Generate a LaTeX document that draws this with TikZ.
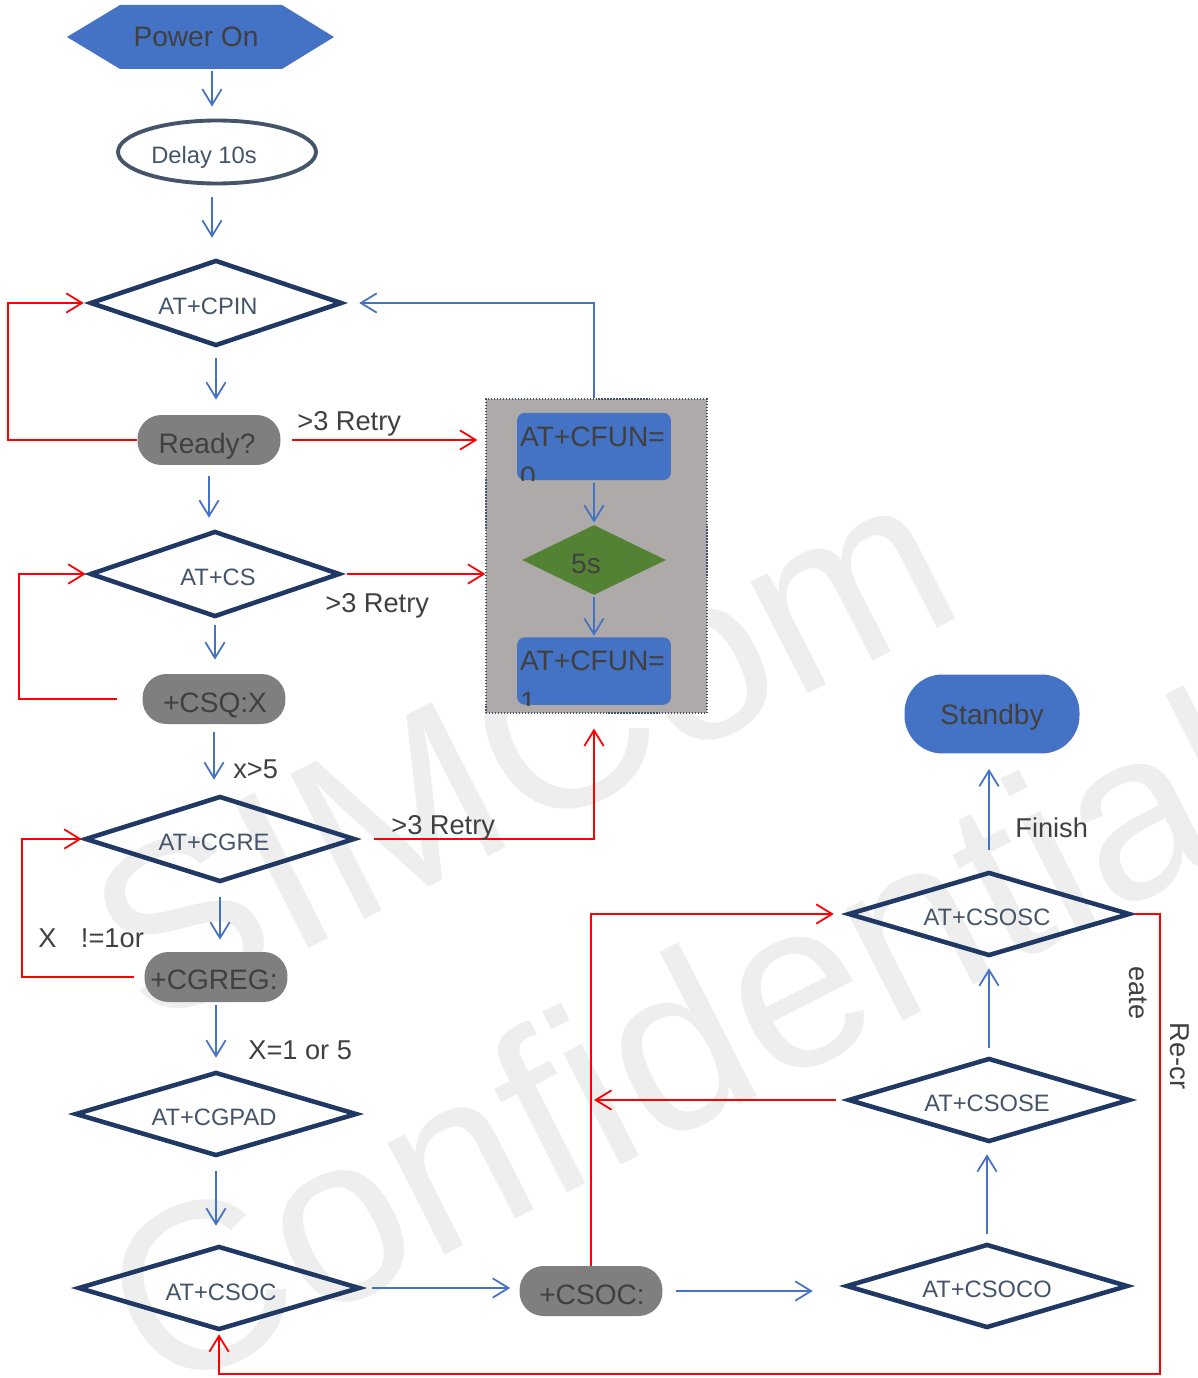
\documentclass[tikz,border=0pt]{standalone}
\usepackage{fontspec}
\setmainfont{Liberation Sans}
\usetikzlibrary{shapes.geometric,arrows.meta}
\definecolor{hexblue}{HTML}{4472C4}
\definecolor{navy}{HTML}{203864}
\definecolor{slate}{HTML}{44546A}
\definecolor{pillgray}{HTML}{7F7F7F}
\definecolor{boxgray}{HTML}{AEAAAA}
\definecolor{greenfill}{HTML}{548235}
\definecolor{txt}{HTML}{404040}
\definecolor{wmark}{HTML}{EEEEEE}
\definecolor{redline}{HTML}{FF0000}
\begin{document}
\begin{tikzpicture}[x=0.02cm,y=-0.02cm,
  dia/.style={diamond, draw=navy, line width=2.6pt, aspect=3.3, inner sep=0pt,
    text=slate, font=\fontsize{13.5}{15}\selectfont, minimum width=5.64cm, minimum height=1.68cm},
  pill/.style={rectangle, rounded corners=0.48cm, fill=pillgray, text=txt, inner sep=0pt,
    text depth=0pt, minimum width=2.86cm, minimum height=1cm, font=\fontsize{16}{18}\selectfont},
  cfunbox/.style={rectangle, rounded corners=0.16cm, fill=hexblue, inner sep=0pt,
    minimum width=3.08cm, minimum height=1.35cm},
  cfuntxt/.style={text=txt, inner sep=0pt, align=left, anchor=north west,
    font=\fontsize{16}{23}\selectfont},
  barrow/.style={draw=hexblue, line width=1pt, -{Straight Barb[length=9pt,width=11pt]}},
  rarrow/.style={draw=redline, line width=1pt, -{Straight Barb[length=9pt,width=11pt]}},
  lbl/.style={text=txt, inner sep=0pt, anchor=west, font=\fontsize{15.5}{17}\selectfont},
  wmtext/.style={text=wmark, inner sep=0pt, rotate=27, font=\fontsize{135}{140}\selectfont}
]
\useasboundingbox (0,0) rectangle (1197,1378);
\clip (0,0) rectangle (1197,1378);

% watermark
\node[wmtext] (wm1) at (522,748) {SIMCom};
\node[wmtext] (wm2) at (680,1040) {Confidential};

% Power On hexagon
\fill[hexblue] (67,37) -- (120,5) -- (282,5) -- (334,37) -- (282,69) -- (120,69) -- cycle;
\node[text=txt, font=\fontsize{16}{18}\selectfont, minimum width=5.34cm, minimum height=1.28cm, inner sep=0pt] (power) at (200,37) {};
\node[text=txt, font=\fontsize{16}{18}\selectfont, inner sep=0pt, text depth=0pt] (powert) at (196,37) {Power On};

\node[ellipse, draw=slate, line width=2.2pt, minimum width=3.96cm, minimum height=1.26cm, inner sep=0pt,
  text=slate, font=\fontsize{13.5}{15}\selectfont] (delay) at (217,152) {};
\node[text=slate, font=\fontsize{13.5}{15}\selectfont, inner sep=0pt, text depth=0pt] (delayt) at (204,155) {Delay 10s};

\node[dia, minimum width=5.04cm, minimum height=1.72cm] (cpin) at (216,303) {};
\node[dia, minimum width=5.0cm, minimum height=1.72cm] (cs) at (215,574) {};
\node[dia, minimum width=5.4cm, minimum height=1.72cm] (cgre) at (220,839) {};
\node[dia] (cgpad) at (216,1114) {};
\node[dia] (csoc) at (219,1288) {};
\node[dia] (csoco) at (987,1286) {};
\node[dia] (csose) at (989,1100) {};
\node[dia] (csosc) at (989,914) {};
\begin{scope}[every node/.style={text=slate, font=\fontsize{13.5}{15}\selectfont, inner sep=0pt, text depth=0pt}]
\node (cpint) at (208,306) {AT+CPIN};
\node (cst) at (218,577) {AT+CS};
\node (cgret) at (214,842) {AT+CGRE};
\node (cgpadt) at (214,1117) {AT+CGPAD};
\node (csoct) at (221,1292) {AT+CSOC};
\node (csocot) at (987,1289) {AT+CSOCO};
\node (csoset) at (987,1103) {AT+CSOSE};
\node (csosct) at (987,917) {AT+CSOSC};
\end{scope}

\node[pill] (ready) at (209,440) {};
\node[pill] (csq) at (214,699) {};
\node[pill] (cgreg) at (216,977) {};
\node[pill] (csocp) at (591,1291) {};
\begin{scope}[every node/.style={text=txt, font=\fontsize{16}{18}\selectfont, inner sep=0pt, text depth=0pt}]
\node (readyt) at (207,443) {Ready?};
\node (csqt) at (215,703) {+CSQ:X};
\node (cgregt) at (214,980) {+CGREG:};
\node (csocpt) at (592,1295) {+CSOC:};
\end{scope}
\node[pill, fill=hexblue, rounded corners=0.76cm, minimum width=3.5cm, minimum height=1.58cm] (standby) at (992,714) {Standby};

% gray box group
\node[rectangle, fill=boxgray, draw=slate, densely dotted, line width=0.7pt,
  minimum width=4.42cm, minimum height=6.28cm, inner sep=0pt] (gbox) at (596.5,556) {};
\node[cfunbox] (cfun0) at (594,446.5) {};
\node[cfunbox] (cfun1) at (594,671) {};
\node[diamond, fill=greenfill, aspect=2, inner sep=0pt, minimum width=2.88cm, minimum height=1.4cm] (d5) at (594,560) {};
\node[text=txt, font=\fontsize{16}{18}\selectfont, inner sep=0pt, text depth=0pt] (d5t) at (586,564) {5s};
\begin{scope}
  \clip[rounded corners=0.16cm] (cfun0.south west) rectangle (cfun0.north east);
  \node[cfuntxt] (cfun0t) at ([xshift=0.06cm,yshift=-0.28cm]cfun0.north west) {AT+CFUN=\\0};
\end{scope}
\begin{scope}
  \clip[rounded corners=0.16cm] (cfun1.south west) rectangle (cfun1.north east);
  \node[cfuntxt] (cfun1t) at ([xshift=0.06cm,yshift=-0.28cm]cfun1.north west) {AT+CFUN=\\1};
\end{scope}

% blue connectors
\coordinate (pw) at ([xshift=0.24cm]power.south);
\coordinate (dl) at ([xshift=-0.1cm]delay.south);
\draw[barrow, shorten <=0.04cm, shorten >=0.24cm] (pw) -- (pw |- delay.north);
\draw[barrow, shorten <=0.24cm, shorten >=0.4cm] (dl) -- (dl |- cpin.north);
\draw[barrow, shorten <=0.2cm, shorten >=0.3cm] (cpin.south) -- (cpin.south |- ready.north);
\draw[barrow, shorten <=0.22cm, shorten >=0.22cm] (ready.south) -- (ready.south |- cs.north);
\draw[barrow, shorten <=0.12cm, shorten >=0.28cm] (cs.south) -- (cs.south |- csq.north);
\draw[barrow, shorten <=0.16cm, shorten >=0.28cm] (csq.south) -- (csq.south |- cgre.north);
\draw[barrow, shorten <=0.26cm, shorten >=0.24cm] (cgre.south) -- (cgre.south |- cgreg.north);
\draw[barrow, shorten <=0.06cm, shorten >=0.24cm] (cgreg.south) -- (cgreg.south |- cgpad.north);
\draw[barrow, shorten <=0.26cm, shorten >=0.36cm] (cgpad.south) -- (cgpad.south |- csoc.north);
\draw[barrow, shorten <=0.2cm, shorten >=0.18cm] (csoc.east) -- (csoc.east -| csocp.west);
\draw[barrow, shorten <=0.26cm, shorten >=0.62cm] (csocp.east) -- (csocp.east -| csoco.west);
\draw[barrow, shorten <=0.16cm, shorten >=0.2cm] (csoco.north) -- (csoco.north |- csose.south);
\draw[barrow, shorten <=0.16cm, shorten >=0.2cm] (csose.north) -- (csose.north |- csosc.south);
\draw[barrow, shorten <=0.4cm, shorten >=0.3cm] (csosc.north) -- (csosc.north |- standby.south);
\draw[barrow, shorten >=0.3cm] (cfun0.north |- gbox.north) |- (cpin.east);
\draw[barrow, shorten <=0.04cm, shorten >=0.04cm] (cfun0.south) -- (d5.north);
\draw[barrow, shorten <=0.04cm, shorten >=0.02cm] (d5.south) -- (cfun1.north);

% red connectors
\coordinate (L1) at (8,370);
\coordinate (L2) at (19,640);
\coordinate (L3) at (22,900);
\coordinate (RC) at (1160,1374);
\draw[rarrow, shorten >=0.08cm] (ready.west) -| (L1) |- (cpin.west);
\draw[rarrow, shorten <=0.22cm, shorten >=0.16cm] (ready.east) -- (ready.east -| gbox.west);
\draw[rarrow, shorten <=0.1cm] (cs.east) -- (cs.east -| gbox.west);
\draw[rarrow, shorten <=0.5cm, shorten >=0.04cm] (csq.west) -| (L2) |- (cs.west);
\draw[rarrow, shorten <=0.34cm, shorten >=0.3cm] (cgre.east) -| (cfun1.south |- gbox.south);
\draw[rarrow, shorten <=0.2cm, shorten >=0.02cm] (cgreg.west) -| (L3) |- (cgre.west);
\draw[rarrow, shorten >=0.24cm] (csocp.north) |- (csosc.west);
\draw[rarrow, shorten <=0.2cm, shorten >=0.06cm] (csose.west) -- (csose.west -| csocp.north);
\draw[rarrow, shorten <=0.06cm, shorten >=0.04cm] (csosc.east) -| (RC) -| (csoc.south);

% labels
\node[lbl] (t1) at (297,424) {>3 Retry};
\node[lbl] (t2) at (325,606) {>3 Retry};
\node[lbl] (t3) at (391,828) {>3 Retry};
\node[lbl] (t4) at (233,769) {x>5};
\node[lbl] (t5) at (38,938) {X\hspace{0.9em}!=1or};
\node[lbl] (t6) at (248,1050) {X=1 or 5};
\node[lbl] (t7) at (1015,828) {Finish};
\node[lbl, anchor=center, rotate=-90] (t8) at (1138,993) {eate};
\node[lbl, anchor=center, rotate=-90] (t9) at (1180,1056) {Re-cr};
\end{tikzpicture}
\end{document}
